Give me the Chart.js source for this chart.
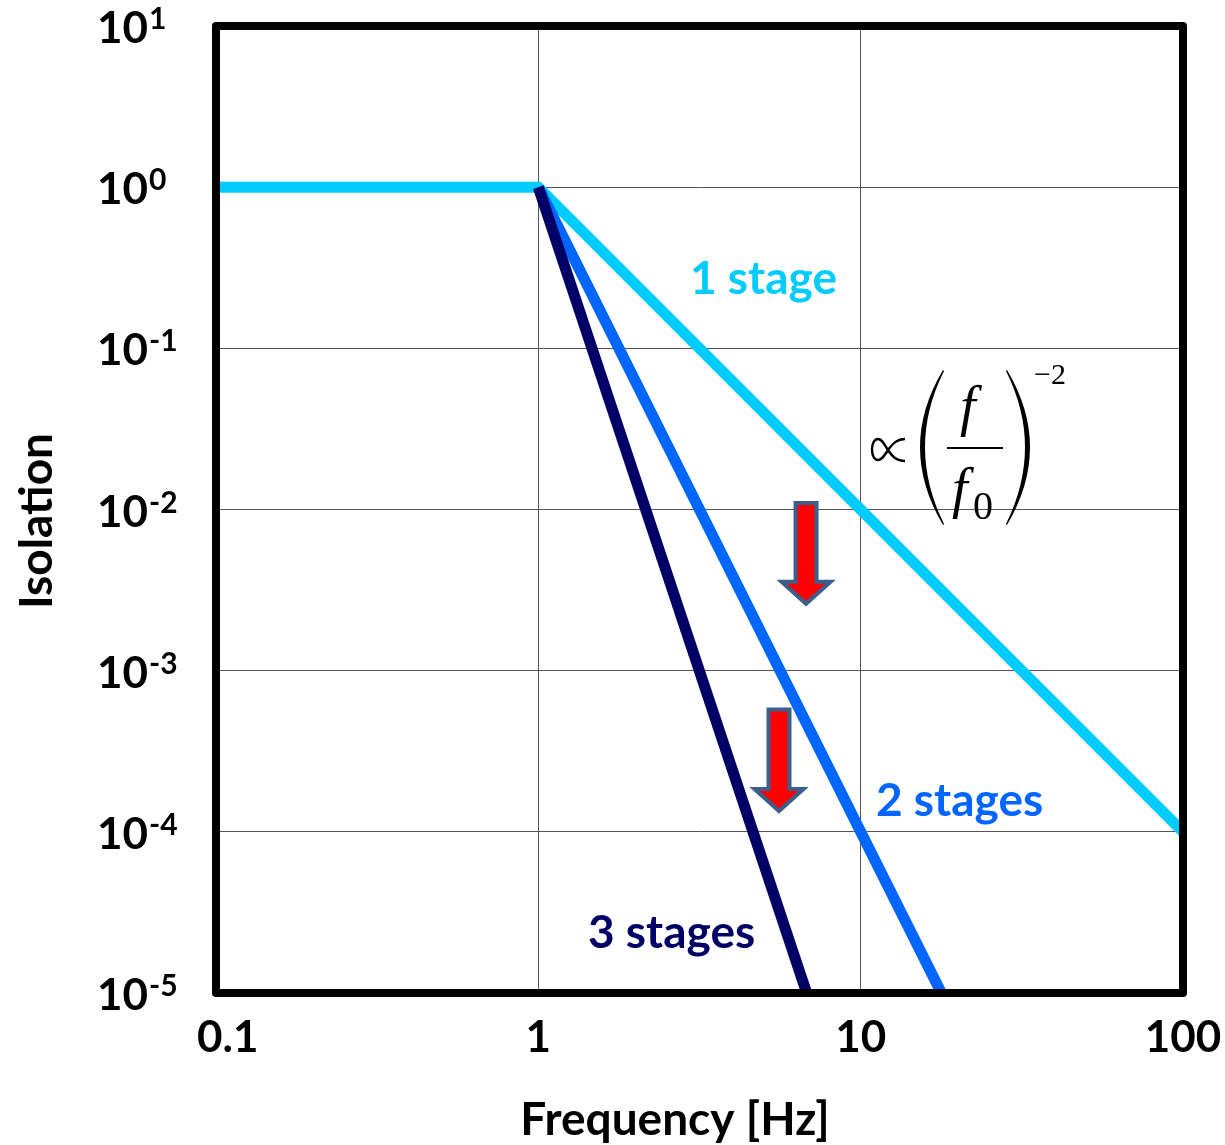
<!DOCTYPE html>
<html>
<head>
<meta charset="utf-8">
<script src="https://cdn.jsdelivr.net/npm/chart.js@4.4.1/dist/chart.umd.min.js"></script>
<style>
  html, body { margin: 0; padding: 0; background: #fff; }
  #wrap { width: 1225px; height: 1145px; }
</style>
</head>
<body>
<div id="wrap"><canvas id="isoChart" width="1225" height="1145"></canvas></div>
<script>
// tick values and labels
const xTicks = [0.1, 1, 10, 100];
const xTickLabels = ["0.1", "1", "10", "100"];
const yTicks = [1e-5, 1e-4, 1e-3, 1e-2, 1e-1, 1, 10];
const yTickExponents = ["-5", "-4", "-3", "-2", "-1", "0", "1"];

// series (frequency in Hz, isolation)
const stage1X = [0.1, 1, 100];
const stage1Y = [1, 1, 1e-4];
const stage2X = [1, 10, 17.8];
const stage2Y = [1, 1e-4, 1e-5];
const stage3X = [1, 6.8];
const stage3Y = [1, 1e-5];

// red arrows, in data coordinates: x, top, tip
const arrowX = [6.77, 5.58];
const arrowTop = [0.0113, 5.9e-4];
const arrowTip = [0.00249, 1.29e-4];

const SANS = 'Lato, "Open Sans", sans-serif';
const BOLD = "bold 44px " + SANS;
const SERIF = '"Liberation Serif", "DejaVu Serif", serif';

const toPoints = (xs, ys) => xs.map((x, i) => ({ x, y: ys[i] }));

const decorations = {
  id: "decorations",
  afterDatasetsDraw(chart) {
    const { ctx, chartArea: a, scales: { x, y } } = chart;
    ctx.save();

    // arrows
    arrowX.forEach((v, i) => {
      const cx = x.getPixelForValue(v);
      const top = y.getPixelForValue(arrowTop[i]) + 2;
      const tip = y.getPixelForValue(arrowTip[i]) - 3;
      const headBase = tip - 22;
      ctx.beginPath();
      ctx.moveTo(cx - 10.5, top);
      ctx.lineTo(cx + 10.5, top);
      ctx.lineTo(cx + 10.5, headBase);
      ctx.lineTo(cx + 24.5, headBase);
      ctx.lineTo(cx, tip);
      ctx.lineTo(cx - 24.5, headBase);
      ctx.lineTo(cx - 10.5, headBase);
      ctx.closePath();
      ctx.fillStyle = "#ff0000";
      ctx.fill();
      ctx.lineWidth = 4;
      ctx.strokeStyle = "#3b5f8c";
      ctx.lineJoin = "miter";
      ctx.stroke();
    });

    // frame
    ctx.lineWidth = 8;
    ctx.lineJoin = "round";
    ctx.strokeStyle = "#000";
    ctx.strokeRect(a.left, a.top, a.right - a.left, a.bottom - a.top);

    // y tick labels 10^n
    ctx.fillStyle = "#000";
    ctx.textAlign = "left";
    ctx.textBaseline = "alphabetic";
    yTicks.forEach((v, i) => {
      const py = y.getPixelForValue(v);
      ctx.font = BOLD;
      ctx.fillText("10", 97, py + 17);
      const w = ctx.measureText("10").width;
      ctx.font = "bold 30px " + SANS;
      ctx.fillText(yTickExponents[i], 97 + w + 1, py + 3);
    });

    // x tick labels
    ctx.font = BOLD;
    ctx.textAlign = "center";
    xTicks.forEach((v, i) => {
      let px = x.getPixelForValue(v);
      const w = ctx.measureText(xTickLabels[i]).width;
      px = Math.max(px, a.left - 19 + w / 2);
      ctx.fillText(xTickLabels[i], px, 1052);
    });

    // axis titles
    ctx.font = "bold 46px " + SANS;
    ctx.fillText("Frequency [Hz]", 675, 1135);
    ctx.save();
    ctx.translate(52, 521);
    ctx.rotate(-Math.PI / 2);
    ctx.fillText("Isolation", 0, 0);
    ctx.restore();

    // series labels
    ctx.font = "bold 46px " + SANS;
    ctx.textAlign = "left";
    ctx.fillStyle = "#00ccff";
    ctx.fillText("1 stage", 690, 294);
    ctx.fillStyle = "#0066ff";
    ctx.fillText("2 stages", 876, 816);
    ctx.fillStyle = "#000066";
    ctx.fillText("3 stages", 588, 948);

    // slope formula: proportional sign
    ctx.fillStyle = "#000";
    ctx.strokeStyle = "#000";
    ctx.lineWidth = 2.4;
    ctx.lineJoin = "round";
    ctx.beginPath();
    ctx.moveTo(905, 439);
    ctx.bezierCurveTo(896, 439, 892, 445, 888, 450);
    ctx.bezierCurveTo(884, 456, 882, 460, 878, 460);
    ctx.bezierCurveTo(870, 460, 870, 439, 878, 439);
    ctx.bezierCurveTo(882, 439, 884, 444, 888, 450);
    ctx.bezierCurveTo(892, 456, 896, 461, 905, 461);
    ctx.stroke();

    // parentheses
    ctx.beginPath();
    ctx.moveTo(943, 370);
    ctx.quadraticCurveTo(897, 447, 943, 525);
    ctx.lineTo(944, 524);
    ctx.quadraticCurveTo(906, 447, 944, 371);
    ctx.closePath();
    ctx.fill();
    ctx.beginPath();
    ctx.moveTo(1007, 370);
    ctx.quadraticCurveTo(1053, 447, 1007, 525);
    ctx.lineTo(1006, 524);
    ctx.quadraticCurveTo(1044, 447, 1006, 371);
    ctx.closePath();
    ctx.fill();

    // fraction
    ctx.fillRect(947, 447, 56, 2);
    ctx.font = "italic 56px " + SERIF;
    ctx.fillText("f", 960, 425);
    ctx.fillText("f", 952, 507);
    ctx.font = "40px " + SERIF;
    ctx.fillText("0", 973, 519);
    ctx.font = "30px " + SERIF;
    ctx.fillText("\u22122", 1034, 384);

    ctx.restore();
  }
};

const line = (data, color, width, order) => ({
  data,
  borderColor: color,
  backgroundColor: color,
  borderWidth: width,
  pointRadius: 0,
  showLine: true,
  fill: false,
  tension: 0,
  order
});

new Chart(document.getElementById("isoChart"), {
  type: "scatter",
  data: {
    datasets: [
      line(toPoints(stage1X, stage1Y), "#00ccff", 11, 3),
      line(toPoints(stage2X, stage2Y), "#0066ff", 11, 2),
      line(toPoints(stage3X, stage3Y), "#000066", 11, 1)
    ]
  },
  options: {
    responsive: false,
    animation: false,
    layout: { padding: { left: 216, right: 42, top: 26, bottom: 152 } },
    plugins: { legend: { display: false }, tooltip: { enabled: false } },
    scales: {
      x: {
        type: "logarithmic",
        min: 0.1,
        max: 100,
        afterBuildTicks: s => { s.ticks = xTicks.map(value => ({ value })); },
        ticks: { display: false },
        grid: { color: "#555", lineWidth: 1, drawTicks: false },
        border: { display: false }
      },
      y: {
        type: "logarithmic",
        min: 1e-5,
        max: 10,
        afterBuildTicks: s => { s.ticks = yTicks.map(value => ({ value })); },
        ticks: { display: false },
        grid: { color: "#555", lineWidth: 1, drawTicks: false },
        border: { display: false }
      }
    }
  },
  plugins: [decorations]
});
</script>
</body>
</html>
